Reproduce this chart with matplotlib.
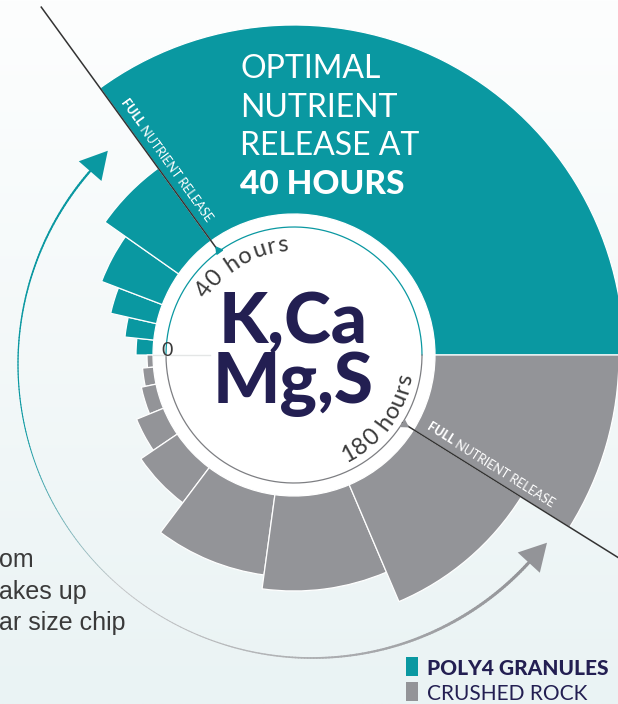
import numpy as np
import matplotlib
matplotlib.use('Agg')
import matplotlib.pyplot as plt
from matplotlib.collections import LineCollection
from matplotlib.font_manager import FontProperties
from matplotlib.textpath import TextPath
from matplotlib.patches import Polygon, Rectangle

#------------------------------------------------------------#
# data                                                       #
#------------------------------------------------------------#

# Poly4 granules: time steps (hours) and release per step
teal_edges_h = [0, 4.5, 9.5, 15.5, 26, 40]
teal_release = [17, 29, 47, 65, 90]
teal_full = 189

# crushed rock
rock_edges_h = [0, 6, 14.5, 27, 41.5, 64.5, 100, 137.5, 180]
rock_release = [6, 11, 15, 29, 44, 81, 95, 127]
rock_full = 184

full_hours = [40, 180]
hour_labels = ['40 hours', '180 hours']
title_lines = ['OPTIMAL', 'NUTRIENT', 'RELEASE AT']
title_bold = '40 HOURS'
centre_lines = ['K,Ca', 'Mg,S']
side_lines = ['om', 'akes up', 'ar size chip']
legend_labels = ['POLY4 GRANULES', 'CRUSHED ROCK']

#------------------------------------------------------------#
# layout / style                                             #
#------------------------------------------------------------#

W, H = 618, 704
CX, CY = 294, 355          # centre of the dial, pixels
R_AX = 340
BASE = 141                 # bars start here
RING = 128                 # thin ring
TEAL = '#0A98A1'
GREY = '#939498'
NAVY = '#231F52'
DARK = '#3a3a3a'
FONT = 'Lato'

def teal_ang(h):
    return 180 - h * 54 / 40

def rock_ang(h):
    return 180 + h * 148 / 180

def px(r, deg):
    t = np.deg2rad(deg)
    return CX + r * np.cos(t), CY - r * np.sin(t)

def text_width(s, fp):
    # advance width in pixels
    ref = TextPath((0, 0), 'xx', prop=fp).get_extents().width
    return (TextPath((0, 0), 'x' + s + 'x', prop=fp).get_extents().width - ref) * 100 / 72

fig = plt.figure(figsize=(W / 100, H / 100), dpi=100)

# background gradient
bg = fig.add_axes([0, 0, 1, 1], zorder=0)
top = np.array([253, 254, 254]) / 255
bot = np.array([234, 243, 244]) / 255
g = np.linspace(0, 1, 256)[:, None, None]
bg.imshow(top * (1 - g) + bot * g, aspect='auto', extent=[0, 1, 0, 1])
bg.set_axis_off()

# polar dial
ax = fig.add_axes([(CX - R_AX) / W, (H - CY - R_AX) / H, 2 * R_AX / W, 2 * R_AX / H],
                  projection='polar', zorder=1)
ax.set_ylim(0, R_AX)
ax.set_axis_off()

ax.bar(0, BASE, width=2 * np.pi, bottom=0, color='white', lw=0)

for i, v in enumerate(teal_release):
    a0, a1 = teal_ang(teal_edges_h[i + 1]), teal_ang(teal_edges_h[i])
    ax.bar(np.deg2rad(a0), v, width=np.deg2rad(a1 - a0), bottom=BASE, align='edge',
           color=TEAL, edgecolor='white', lw=0.9)
a_full = teal_ang(teal_edges_h[-1])
ax.bar(0, teal_full, width=np.deg2rad(a_full), bottom=BASE, align='edge',
       color=TEAL, edgecolor='white', lw=0.9)

for i, v in enumerate(rock_release):
    a0, a1 = rock_ang(rock_edges_h[i]), rock_ang(rock_edges_h[i + 1])
    ax.bar(np.deg2rad(a0), v, width=np.deg2rad(a1 - a0), bottom=BASE, align='edge',
           color=GREY, edgecolor='white', lw=0.9)
a_full = rock_ang(rock_edges_h[-1])
ax.bar(np.deg2rad(a_full), rock_full, width=np.deg2rad(360 - a_full), bottom=BASE,
       align='edge', color=GREY, edgecolor='white', lw=0.9)

# thin ring, teal on top, grey below
t = np.linspace(0, np.pi, 200)
ax.plot(t, np.full_like(t, RING), color=TEAL, lw=0.9)
ax.plot(t + np.pi, np.full_like(t, RING), color='#7d7e82', lw=0.9)
ax.plot([np.pi, np.pi], [84, BASE], color='#e4e6e6', lw=1)

# full release lines
for ang, col in [(teal_ang(full_hours[0]), TEAL), (rock_ang(full_hours[1]), GREY)]:
    th = np.deg2rad(ang)
    ax.plot([th, th], [RING, 430], color='#333333', lw=1.1, clip_on=False, zorder=5)
    ax.plot([th], [RING + 2], marker=(3, 0, ang - 90), ms=6, color=col,
            mec=col, zorder=6, clip_on=False)

#------------------------------------------------------------#
# overlay: text, arrows, legend                              #
#------------------------------------------------------------#

ov = fig.add_axes([0, 0, 1, 1], zorder=2)
ov.set_xlim(0, W)
ov.set_ylim(H, 0)
ov.set_axis_off()
ov.patch.set_alpha(0)

def arc_text(s, r, mid, fs, cw, track=0, color=DARK):
    fp = FontProperties(family=FONT, size=fs)
    adv = np.array([text_width(s[:i], fp) + i * track for i in range(len(s) + 1)])
    total = adv[-1] - track
    for i, ch in enumerate(s):
        if ch == ' ':
            continue
        off = (adv[i] + adv[i + 1] - track) / 2 - total / 2
        d = np.rad2deg(off / r)
        a = mid - d if cw else mid + d
        rot = a - 90 if cw else a + 90
        x, y = px(r, a)
        ov.text(x, y, ch, rotation=rot, rotation_mode='anchor', ha='center',
                va='baseline', fontproperties=fp, color=color)

arc_text(hour_labels[0], 104, 120.5, 17, cw=True, track=1.0)
arc_text(hour_labels[1], 120, -37, 17, cw=False, track=1.0)
ov.text(167, 351, '0', ha='center', va='center', fontsize=14, color=DARK, family=FONT)

# centre text
ov.text(CX - 1, 343, centre_lines[0], ha='center', va='baseline', fontsize=51,
        family=FONT, weight='black', color=NAVY)
ov.text(CX - 1, 403, centre_lines[1], ha='center', va='baseline', fontsize=51,
        family=FONT, weight='black', color=NAVY)

# headline in the teal wedge
for i, line in enumerate(title_lines):
    ov.text(240, 78 + i * 38.7, line, ha='left', va='baseline', fontsize=23,
            family=FONT, color='white')
ov.text(240, 194, title_bold, ha='left', va='baseline', fontsize=24,
        family=FONT, weight='black', color='white')

# FULL NUTRIENT RELEASE labels along the lines
fp_b = FontProperties(family=FONT, size=9, weight='black')
fp_n = FontProperties(family=FONT, size=9)
w_full = text_width('FULL', fp_b)
w_rest = text_width(' NUTRIENT RELEASE', fp_n)
for ang, r in [(teal_ang(full_hours[0]), 232), (rock_ang(full_hours[1]), 226)]:
    rot = ang - 180 if ang < 180 else ang - 360
    dx, dy = np.cos(np.deg2rad(rot)), -np.sin(np.deg2rad(rot))
    nx, ny = dy, -dx
    x0, y0 = px(r, ang)
    sx = x0 - (w_full + w_rest) / 2 * dx + 11 * nx
    sy = y0 - (w_full + w_rest) / 2 * dy + 11 * ny
    ov.text(sx, sy, 'FULL', ha='left', va='center', rotation=rot,
            rotation_mode='anchor', fontproperties=fp_b, color='white')
    ov.text(sx + w_full * dx, sy + w_full * dy, ' NUTRIENT RELEASE', ha='left',
            va='center', rotation=rot, rotation_mode='anchor', fontproperties=fp_n,
            color='white')

# big sweeping arrow
ACX, ACY, AR = 312, 364, 294
a = np.linspace(139, 317.5, 300)
xs = ACX + AR * np.cos(np.deg2rad(a))
ys = ACY - AR * np.sin(np.deg2rad(a))
pts = np.column_stack([xs, ys])
segs = np.stack([pts[:-1], pts[1:]], axis=1)
u = np.linspace(0, 1, len(segs))
c_teal = np.array(matplotlib.colors.to_rgb(TEAL))
c_light = np.array(matplotlib.colors.to_rgb('#c4c6c8'))
c_grey = np.array(matplotlib.colors.to_rgb(GREY))
cols = []
lws = []
for k in u:
    if k < 0.3:
        c = c_teal
    elif k < 0.5:
        f = (k - 0.3) / 0.2
        c = c_teal * (1 - f) + c_light * f
    else:
        f = (k - 0.5) / 0.5
        c = c_light * (1 - f) + c_grey * f
    cols.append(c)
    lws.append(1.6 - 1.0 * np.sin(np.pi * min(k / 0.9, 1)) + 1.6 * max(k - 0.6, 0))
ov.add_collection(LineCollection(segs, colors=cols, linewidths=lws, capstyle='round'))

def arrow_head(ang, sign, col):
    bx, by = ACX + AR * np.cos(np.deg2rad(ang)), ACY - AR * np.sin(np.deg2rad(ang))
    th = np.deg2rad(ang)
    tx, ty = sign * -np.sin(th), sign * -np.cos(th)
    tip = (bx + 27 * tx, by + 27 * ty)
    p1 = (bx + 15 * ty, by - 15 * tx)
    p2 = (bx - 15 * ty, by + 15 * tx)
    ov.add_patch(Polygon([tip, p1, p2], closed=True, color=col, lw=0))

arrow_head(139, -1, TEAL)
arrow_head(317.5, 1, GREY)

# side text (cut off at the left edge)
for i, line in enumerate(side_lines):
    ov.text(-1, 567 + i * 31.5, line, ha='left', va='baseline', fontsize=18,
            family='Liberation Sans', color=DARK)

# legend
ov.add_patch(Rectangle((406, 657), 12, 19, color=TEAL, lw=0))
ov.add_patch(Rectangle((406, 682), 12, 19, color=GREY, lw=0))
ov.text(427, 675, legend_labels[0], ha='left', va='baseline', fontsize=15,
        family=FONT, weight='black', color=NAVY)
ov.text(427, 700, legend_labels[1], ha='left', va='baseline', fontsize=15,
        family=FONT, color=NAVY)

fig.savefig('out.png', dpi=100)
